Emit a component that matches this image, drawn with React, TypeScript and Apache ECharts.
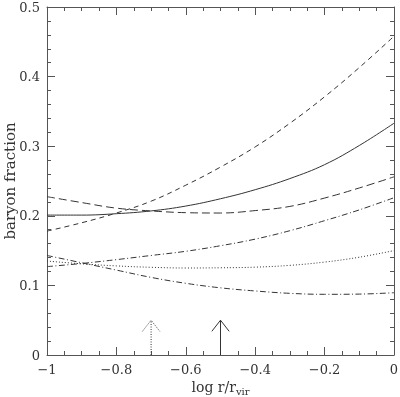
import React, { useEffect, useRef } from "react";
import * as echarts from "echarts";

const xs = [-1, -0.9, -0.8, -0.7, -0.6, -0.5, -0.4, -0.3, -0.2, -0.1, 0];
const dashedUpper = [0.178, 0.19, 0.204, 0.221, 0.244, 0.27, 0.299, 0.333, 0.371, 0.413, 0.458];
const solid = [0.201, 0.201, 0.203, 0.207, 0.214, 0.2245, 0.2375, 0.2535, 0.2735, 0.301, 0.333];
const dashedLower = [0.2275, 0.219, 0.211, 0.207, 0.2045, 0.204, 0.2075, 0.2135, 0.2255, 0.24, 0.256];
const dashDotUpper = [0.127, 0.1315, 0.137, 0.143, 0.149, 0.157, 0.1665, 0.1786, 0.193, 0.2085, 0.226];
const dotted = [0.135, 0.131, 0.128, 0.126, 0.125, 0.1253, 0.1262, 0.1288, 0.1335, 0.1405, 0.15];
const dashDotLower = [0.143, 0.1325, 0.122, 0.1115, 0.103, 0.0965, 0.092, 0.0886, 0.0872, 0.0875, 0.0895];

const arrowDottedX = -0.7;
const arrowSolidX = -0.5;
const arrowTop = 0.05;

const FONT = "DejaVu Serif";
const INK = "#333";
const AX = "#555";

function fmt(v: number) {
  const s = Number(v.toFixed(2)).toString();
  return s.replace("-", "\u2212");
}

export default function App() {
  const ref = useRef<HTMLDivElement>(null);
  useEffect(() => {
    if (!ref.current) return;
    const chart = echarts.init(ref.current, null, { renderer: "svg" });
    const pair = (ys: number[]) => xs.map((x, i) => [x, ys[i]]);
    const line = (ys: number[], type: any) => ({
      type: "line",
      data: pair(ys),
      smooth: 0.4,
      showSymbol: false,
      symbol: "none",
      lineStyle: { color: INK, width: 1, type },
      silent: true,
    });
    const arrow = (x: number, type: any) => [
      {
        type: "line",
        data: [[x, 0], [x, arrowTop]],
        symbol: "none",
        lineStyle: { color: INK, width: 1, type },
        silent: true,
      },
      {
        type: "line",
        data: [[x - 0.025, arrowTop - 0.016], [x, arrowTop], [x + 0.025, arrowTop - 0.016]],
        symbol: "none",
        lineStyle: { color: INK, width: 1, type },
        silent: true,
      },
    ];
    const tick = () => ({ show: true, inside: true, length: 8, lineStyle: { color: AX } });
    const minor = (n: number) => ({ show: true, splitNumber: n, length: 4, lineStyle: { color: AX } });
    const axisCommon = () => ({
      axisLine: { show: true, onZero: false, lineStyle: { color: AX, width: 1 } },
      splitLine: { show: false },
      minorSplitLine: { show: false },
    });
    chart.setOption({
      animation: false,
      grid: { left: 47, right: 6, top: 7, bottom: 42, containLabel: false, outerBoundsMode: "none" },
      xAxis: [
        {
          type: "value",
          min: -1,
          max: 0,
          interval: 0.2,
          position: "bottom",
          ...axisCommon(),
          axisTick: tick(),
          minorTick: minor(4),
          axisLabel: { formatter: fmt, fontFamily: FONT, fontSize: 13, color: INK, margin: 8 },
          name: "log r/r{sub|vir}",
          nameLocation: "middle",
          nameGap: 23,
          nameMoveOverlap: false,
          nameTextStyle: {
            fontFamily: FONT,
            fontSize: 14,
            color: INK,
            rich: { sub: { fontFamily: FONT, fontSize: 10, color: INK, verticalAlign: "bottom", padding: [8, 0, 0, 0] } },
          },
        },
        {
          type: "value",
          min: -1,
          max: 0,
          interval: 0.2,
          position: "top",
          ...axisCommon(),
          axisTick: tick(),
          minorTick: minor(4),
          axisLabel: { show: false },
        },
      ],
      yAxis: [
        {
          type: "value",
          min: 0,
          max: 0.5,
          interval: 0.1,
          position: "left",
          ...axisCommon(),
          axisTick: tick(),
          minorTick: minor(5),
          axisLabel: { formatter: fmt, fontFamily: FONT, fontSize: 13, color: INK, margin: 7 },
          name: "baryon fraction",
          nameLocation: "middle",
          nameGap: 30,
          nameMoveOverlap: false,
          nameTextStyle: { fontFamily: FONT, fontSize: 15, color: INK },
        },
        {
          type: "value",
          min: 0,
          max: 0.5,
          interval: 0.1,
          position: "right",
          ...axisCommon(),
          axisTick: tick(),
          minorTick: minor(5),
          axisLabel: { show: false },
        },
      ],
      series: [
        line(dashedUpper, [5, 4]),
        line(solid, "solid"),
        line(dashedLower, [8, 4]),
        line(dashDotUpper, [6, 2.5, 1, 2.5]),
        line(dotted, [1, 2]),
        line(dashDotLower, [6, 2.5, 1, 2.5]),
        ...arrow(arrowDottedX, [1, 1.5]),
        ...arrow(arrowSolidX, "solid"),
      ],
    });
    return () => chart.dispose();
  }, []);
  return <div ref={ref} style={{ width: 400, height: 397, position: "fixed", left: 0, top: 0 }} />;
}
